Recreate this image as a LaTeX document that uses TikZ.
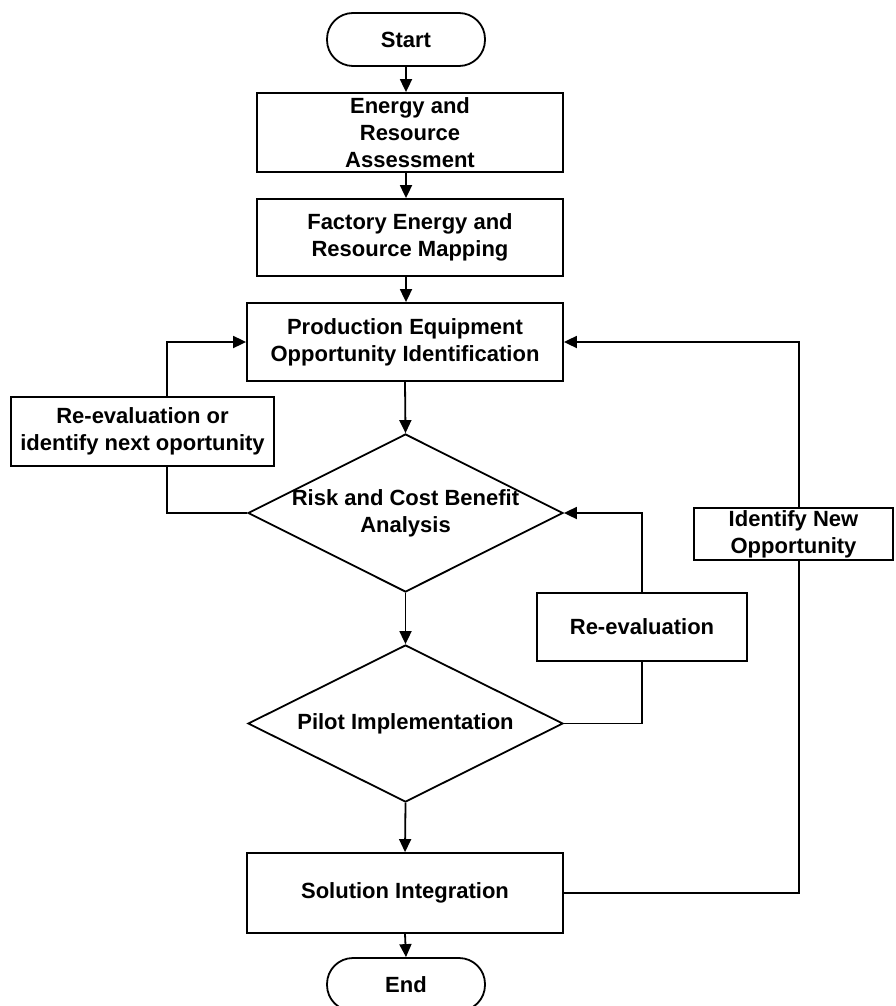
\documentclass[tikz,border=0pt]{standalone}
\usepackage{fontspec}
\setmainfont{Liberation Sans}
\usetikzlibrary{arrows.meta,shapes.geometric}
\newcommand\fcfont{\fontsize{22}{27}\selectfont\bfseries}
\begin{document}
\begin{tikzpicture}[x=1pt,y=-1pt,
  box/.style={draw, line width=1.8pt, rectangle, inner sep=1pt, align=center, font=\fcfont},
  term/.style={box, rounded corners=26pt},
  dia/.style={draw, line width=1.8pt, diamond, inner sep=0pt},
  lbl/.style={align=center, font=\fcfont, inner sep=0pt},
  arr/.style={line width=1.8pt, -{Triangle[length=13pt,width=12pt]}},
  ln/.style={line width=1.8pt}]
\path[use as bounding box, fill=white] (0,0) rectangle (895,1006);

\node[term, minimum width=158pt, minimum height=53pt] (start) at (406,39.5) {Start};
\node[box, minimum width=306pt, minimum height=79pt] (energy) at (410,132.5) {Energy and\\Resource\\Assessment};
\node[box, minimum width=306pt, minimum height=77pt] (factory) at (410,237.5) {Factory Energy and\\Resource Mapping};
\node[box, minimum width=316pt, minimum height=78pt] (prod) at (405,342) {Production Equipment\\Opportunity Identification};
\node[box, minimum width=263pt, minimum height=69pt] (reval1) at (142.5,431.5) {Re-evaluation or\\identify next oportunity};
\node[dia, minimum width=315pt, minimum height=158pt] (d1) at (405.5,513) {};
\node[lbl] (d1t) at (d1.center) {Risk and Cost Benefit\\Analysis};
\node[box, minimum width=199pt, minimum height=52pt] (idnew) at (793.5,534) {Identify New\\Opportunity};
\node[box, minimum width=210pt, minimum height=68pt] (reval2) at (642,627) {Re-evaluation};
\node[dia, minimum width=315pt, minimum height=157pt] (d2) at (405.5,723.5) {};
\node[lbl] (d2t) at (d2.center) {Pilot Implementation};
\node[box, minimum width=316pt, minimum height=80pt] (sol) at (405,893) {Solution Integration};
\node[term, minimum width=158pt, minimum height=53pt] (end) at (406,984.5) {End};

\coordinate (lx) at (167,0);
\coordinate (rx) at (799,0);

\draw[arr] (start.south) -- (start.south |- energy.north);
\draw[arr] (start.south |- energy.south) -- (start.south |- factory.north);
\draw[arr] (start.south |- factory.south) -- (start.south |- prod.north);
\draw[arr] (prod.south) -- (d1.north);
\draw[arr] (d1.south) -- (d2.north);
\draw[arr] (d2.south) -- (sol.north);
\draw[arr] (sol.south) -- (end.north);

\draw[ln] (d1.west) -| (lx |- reval1.south);
\draw[arr] (lx |- reval1.north) |- (prod.west);

\draw[ln] (d2.east) -| (reval2.south);
\draw[arr] (reval2.north) |- (d1.east);

\draw[ln] (sol.east) -| (rx |- idnew.south);
\draw[arr] (rx |- idnew.north) |- (prod.east);
\end{tikzpicture}
\end{document}
